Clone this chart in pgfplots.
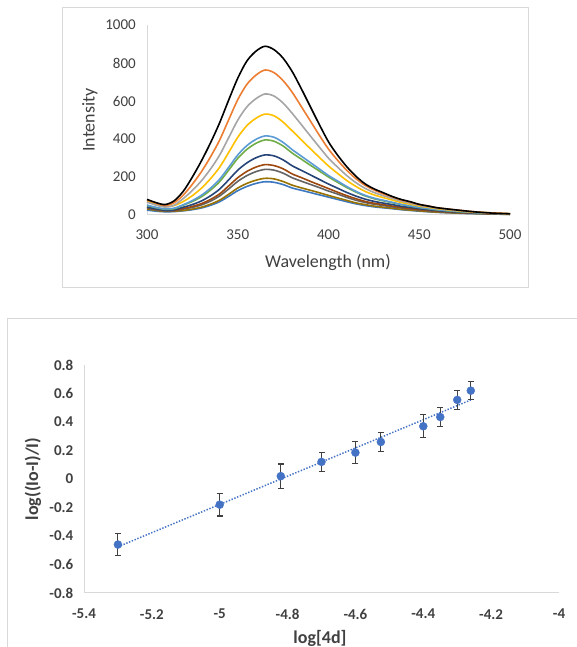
\documentclass[border=0pt]{standalone}
\usepackage{fontspec}
\setmainfont{Carlito}
\usepackage{pgfplots}
\usepackage{pgfplotstable}
\pgfplotsset{compat=1.18}

\definecolor{axgray}{HTML}{D9D9D9}
\definecolor{txtgray}{HTML}{404040}
\definecolor{cbk}{HTML}{000000}
\definecolor{cor}{HTML}{ED7D31}
\definecolor{cgy}{HTML}{A5A5A5}
\definecolor{cye}{HTML}{FFC000}
\definecolor{clb}{HTML}{5B9BD5}
\definecolor{cgr}{HTML}{70AD47}
\definecolor{cdb}{HTML}{264478}
\definecolor{cbr}{HTML}{9E480E}
\definecolor{cdg}{HTML}{636363}
\definecolor{col}{HTML}{997300}
\definecolor{cbl}{HTML}{3C78C0}
\definecolor{ptblue}{HTML}{4472C4}
\definecolor{errgray}{HTML}{404040}

% emission spectra, one column per titration step
\pgfplotstableread{
wl  bl  ol  dg  br  db  gr  lb  ye  gy  or  bk
300 26  32  36  40  42  50  52  72  68  80  82
305 20  24  27  30  32  38  40  56  52  62  65
310 17  19  21  23  25  30  32  44  42  50  55
315 18  20  22  24  27  33  36  50  52  65  75
320 22  24  31  34  41  52  54  71  87  105 125
325 28  31  40  45  55  71  76  102 129 162 200
330 37  41  53  60  74  96  104 141 180 228 285
335 51  57  73  82  101 131 141 191 242 306 380
340 70  78  100 111 136 175 188 251 315 394 485
345 98  109 137 153 185 236 251 329 407 501 605
350 128 142 177 196 236 298 316 409 499 607 720
355 150 166 207 229 274 345 365 470 569 687 810
360 166 183 228 252 301 377 398 509 612 736 862
365 175 193 240 265 316 395 416 531 637 763 888
370 172 190 236 260 311 388 409 522 626 749 870
375 160 176 220 243 290 363 382 489 589 707 825
380 142 157 196 216 259 326 344 443 535 646 755
385 130 143 178 197 235 294 310 396 476 571 665
390 118 130 161 177 211 262 276 349 416 495 570
395 106 117 144 158 187 231 242 303 357 419 475
400 94  103 126 139 163 200 208 258 299 347 385
405 82  90  110 120 141 172 179 219 252 288 315
410 70  77  93  102 119 145 150 182 208 236 255
415 59  64  78  86  100 121 125 151 171 192 205
420 50  55  66  72  84  101 104 125 141 157 165
425 43  47  57  62  72  86  89  106 119 132 138
430 38  41  50  55  63  75  78  92  102 112 118
435 33  36  43  47  55  65  67  79  88  96  98
440 28  30  37  40  46  55  56  66  73  79  82
445 24  26  31  34  40  47  48  57  62  68  70
450 20  22  26  28  33  39  40  47  51  55  56
455 17  18  22  24  28  33  34  40  43  47  47
460 14  15  18  20  23  27  28  33  36  38  38
470 10  11  13  14  16  19  20  23  25  27  27
480 7   8   9   10  11  13  13  15  17  17  17
490 5   6   7   7   8   9   9   11  11  11  10
500 3   3   4   4   5   6   6   6   7   7   6
}\spectra

% log plot with error bars
\pgfplotstableread{
x       y      e
-5.30   -0.46  0.075
-5.00   -0.18  0.080
-4.82   0.02   0.085
-4.70   0.12   0.065
-4.60   0.185  0.075
-4.525  0.26   0.068
-4.40   0.37   0.080
-4.35   0.435  0.067
-4.30   0.555  0.065
-4.26   0.62   0.063
}\ptdata

\begin{document}
\begin{tikzpicture}[x=1pt,y=1pt]
\useasboundingbox (0,0) rectangle (577,647);
% chart frames
\draw[axgray, line width=1pt] (62,359) rectangle (528,639);
\draw[axgray, line width=1pt] (7,-5) -- (7,328) -- (585,328);

\begin{axis}[
    at={(147pt,432pt)}, anchor=south west,
    scale only axis, width=363pt, height=190pt,
    xmin=300, xmax=500, ymin=0, ymax=1000,
    axis x line*=bottom, axis y line*=left,
    axis line style={axgray, line width=1pt, -},
    major tick length=0pt,
    xtick={300,350,...,500}, ytick={0,200,...,1000},
    /pgf/number format/assume math mode=true,
    /pgf/number format/set thousands separator={},
    ticklabel style={font=\fontsize{15}{18}\selectfont, text=txtgray},
    xticklabel style={anchor=north, inner sep=0pt, yshift=-15pt},
    yticklabel style={anchor=east, inner sep=0pt, xshift=-11pt},
    every axis plot/.append style={line width=1.6pt, smooth},
    clip=false,
]
\addplot[cbl] table[x=wl, y=bl]{\spectra};
\addplot[col] table[x=wl, y=ol]{\spectra};
\addplot[cdg] table[x=wl, y=dg]{\spectra};
\addplot[cbr] table[x=wl, y=br]{\spectra};
\addplot[cdb] table[x=wl, y=db]{\spectra};
\addplot[cgr] table[x=wl, y=gr]{\spectra};
\addplot[clb] table[x=wl, y=lb]{\spectra};
\addplot[cye] table[x=wl, y=ye]{\spectra};
\addplot[cgy] table[x=wl, y=gy]{\spectra};
\addplot[cor] table[x=wl, y=or]{\spectra};
\addplot[cbk] table[x=wl, y=bk]{\spectra};
\end{axis}
\node[font=\fontsize{18}{20}\selectfont, text=txtgray] at (328,385) {Wavelength (nm)};
\node[font=\fontsize{18}{20}\selectfont, text=txtgray, rotate=90] at (90,527) {Intensity};

\begin{axis}[
    at={(84pt,54pt)}, anchor=south west,
    scale only axis, width=475pt, height=228pt,
    xmin=-5.4, xmax=-4, ymin=-0.8, ymax=0.8,
    axis x line*=bottom, axis y line*=left,
    axis line style={axgray, line width=1pt, -},
    major tick length=0pt,
    xtick={-5.4,-5.2,-5,-4.8,-4.6,-4.4,-4.2,-4},
    xticklabels={-5.4,-5.2,-5,-4.8,-4.6,-4.4,-4.2,-4},
    ytick={-0.8,-0.6,-0.4,-0.2,0,0.2,0.4,0.6,0.8},
    yticklabels={-0.8,-0.6,-0.4,-0.2,0,0.2,0.4,0.6,0.8},
    ticklabel style={font=\fontsize{15}{18}\selectfont\bfseries, text=txtgray},
    xticklabel style={anchor=north, inner sep=0pt, yshift=-16pt},
    yticklabel style={anchor=east, inner sep=0pt, xshift=-10.5pt},
]
\addplot[ptblue, line width=1.5pt, dash pattern=on 1.4pt off 1.6pt]
    table[x=x, y={create col/linear regression={y=y}}]{\ptdata};
\addplot[only marks, mark=*, mark size=4pt, color=ptblue,
    error bars/.cd, y dir=both, y explicit,
    error bar style={errgray, line width=1.1pt},
    error mark options={rotate=90, mark size=3pt, line width=1.1pt, errgray}]
    table[x=x, y=y, y error=e]{\ptdata};
\end{axis}
\node[font=\fontsize{18}{20}\selectfont\bfseries, text=txtgray] at (320,9) {log[4d]};
\node[font=\fontsize{18}{20}\selectfont\bfseries, text=txtgray, rotate=90] at (33,168) {log((Io-I)/I)};
\end{tikzpicture}
\end{document}
